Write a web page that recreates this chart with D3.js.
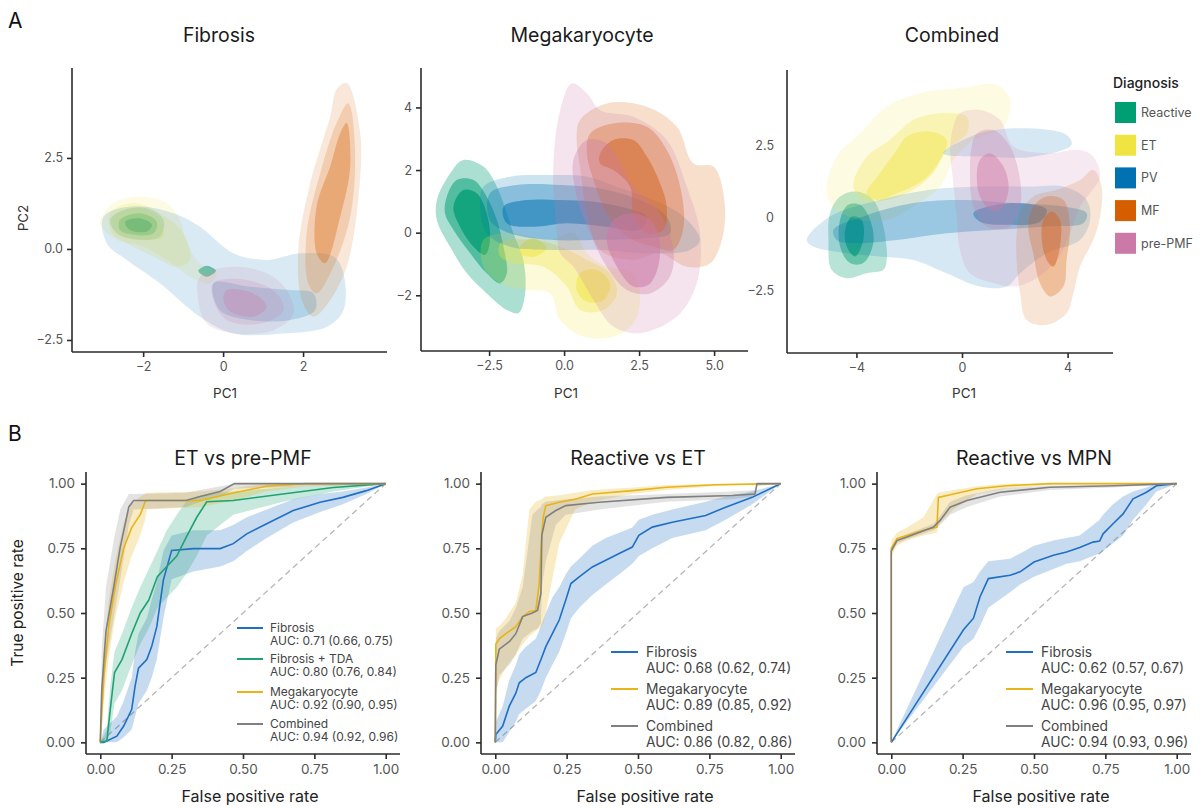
<!DOCTYPE html>
<html><head><meta charset="utf-8">
<script src="https://cdn.jsdelivr.net/npm/d3@7"></script>
<style>body{margin:0;background:#fff} svg{font-family:Inter,"Noto Sans",sans-serif}</style>
</head><body><svg id="c" width="1202" height="808"></svg>
<script>
// ---------------- DATA ----------------
const diagnoses = ["Reactive","ET","PV","MF","pre-PMF"];
const diagColors = ["#009E73","#F0E442","#0072B2","#D55E00","#CC79A7"];

// PCA density contours (lv = density level, higher = denser), data coordinates [PC1, PC2]
const fibReactive = [
  {lv:1, pts:[[-2.83,0.80],[-2.49,1.07],[-1.91,1.12],[-1.49,0.80],[-1.58,0.34],[-2.08,0.25],[-2.66,0.43]]},
  {lv:2, pts:[[-2.58,0.80],[-2.08,0.98],[-1.66,0.75],[-1.74,0.43],[-2.24,0.39],[-2.58,0.52]]},
  {lv:3, pts:[[-2.45,0.75],[-2.08,0.84],[-1.78,0.66],[-1.91,0.48],[-2.33,0.52]]},
  {lv:3, pts:[[-0.62,-0.60],[-0.41,-0.46],[-0.18,-0.60],[-0.41,-0.76]]}
];
const fibET = [
  {lv:0, pts:[[-3.08,0.71],[-2.74,1.26],[-2.08,1.44],[-1.41,1.26],[-1.08,0.80],[-0.91,0.16],[-0.58,-0.39],[-0.16,-0.67],[-0.33,-0.94],[-0.83,-0.76],[-1.41,-0.30],[-1.99,0.06],[-2.66,0.25]]},
  {lv:1, pts:[[-2.83,0.98],[-2.24,1.26],[-1.58,0.98],[-0.99,0.43],[-0.83,-0.30],[-1.16,-0.49],[-1.74,-0.21],[-2.41,0.16],[-2.78,0.43]]},
  {lv:1, pts:[[-2.74,0.89],[-2.08,1.12],[-1.58,0.80],[-1.49,0.34],[-2.08,0.25],[-2.66,0.43]]}
];
const fibPV = [
  {lv:0, pts:[[-2.99,0.89],[-2.24,1.17],[-1.24,0.98],[-0.58,0.61],[0.26,-0.12],[1.09,-0.30],[1.93,-0.12],[2.76,-0.21],[3.01,-0.67],[3.01,-1.68],[2.59,-2.14],[1.51,-2.32],[0.26,-2.32],[-0.58,-1.86],[-1.58,-0.94],[-2.41,-0.30],[-2.91,0.16]]},
  {lv:1, pts:[[-0.24,-0.94],[0.68,-1.04],[1.68,-1.13],[2.26,-1.22],[2.30,-1.68],[1.68,-1.95],[0.68,-1.95],[-0.08,-1.68]]}
];
const fibMF = [
  {lv:0, pts:[[3.09,4.56],[3.43,3.18],[3.38,1.35],[3.09,-0.49],[2.68,-1.40],[2.26,-1.86],[1.97,-1.40],[1.88,-0.03],[2.18,1.81],[2.68,3.64],[2.84,4.38]]},
  {lv:1, pts:[[3.13,4.00],[3.30,2.72],[3.18,0.89],[2.76,-0.49],[2.34,-1.22],[2.13,-0.94],[2.09,0.43],[2.43,2.08],[2.84,3.46]]},
  {lv:2, pts:[[3.09,3.46],[3.18,2.27],[2.93,0.89],[2.55,-0.39],[2.34,-0.12],[2.34,1.17],[2.68,2.27],[2.93,3.18]]}
];
const fibPMF = [
  {lv:0, pts:[[-0.58,-0.76],[0.26,-0.49],[1.09,-0.67],[1.59,-1.13],[1.76,-1.77],[1.26,-2.23],[0.26,-2.32],[-0.41,-2.05],[-0.62,-1.40]]},
  {lv:1, pts:[[-0.24,-0.94],[0.59,-0.85],[1.34,-1.22],[1.51,-1.68],[0.93,-2.05],[0.09,-1.95],[-0.24,-1.40]]},
  {lv:2, pts:[[0.09,-1.13],[0.76,-1.22],[1.09,-1.59],[0.76,-1.86],[0.18,-1.72],[0.01,-1.40]]}
];

const megReactive = [
  {lv:1, pts:[[-4.24,1.04],[-3.80,1.89],[-3.36,2.32],[-2.69,2.11],[-2.24,1.47],[-1.91,0.62],[-1.69,-0.02],[-1.36,-0.87],[-1.30,-1.94],[-1.52,-2.57],[-1.91,-2.47],[-2.58,-1.94],[-3.24,-1.30],[-3.80,-0.45],[-4.24,0.40]]},
  {lv:2, pts:[[-3.91,1.15],[-3.58,1.68],[-3.02,1.68],[-2.58,1.15],[-2.24,0.40],[-2.02,-0.45],[-1.91,-1.30],[-2.13,-1.62],[-2.58,-1.30],[-3.13,-0.66],[-3.69,0.09],[-3.97,0.62]]},
  {lv:3, pts:[[-3.69,0.83],[-3.36,1.36],[-2.91,1.26],[-2.58,0.62],[-2.47,-0.23],[-2.63,-0.71],[-3.02,-0.45],[-3.47,0.19]]}
];
const megET = [
  {lv:0, pts:[[-2.69,-0.23],[-1.80,-0.02],[-0.47,-0.23],[0.31,-0.02],[0.76,-0.66],[1.42,-1.09],[2.31,-1.30],[2.53,-2.15],[2.31,-2.89],[1.64,-3.32],[0.64,-3.32],[-0.13,-2.79],[-0.47,-1.94],[-1.24,-1.83],[-2.13,-1.62],[-2.69,-1.09]]},
  {lv:1, pts:[[-2.13,-0.34],[-1.02,-0.23],[-0.13,-0.45],[0.76,-0.87],[1.53,-1.30],[1.76,-1.94],[1.31,-2.47],[0.53,-2.47],[0.09,-1.72],[-0.69,-1.09],[-1.69,-0.98],[-2.13,-0.77]]},
  {lv:2, pts:[[-1.47,-0.45],[-1.02,-0.18],[-0.58,-0.50],[-1.02,-0.77],[-1.47,-0.66]]},
  {lv:2, pts:[[0.53,-1.30],[1.09,-1.19],[1.53,-1.62],[1.31,-2.15],[0.76,-2.21],[0.42,-1.83]]}
];
const megPV = [
  {lv:0, pts:[[-2.69,1.47],[-1.80,1.79],[-0.47,1.84],[0.76,1.79],[1.76,1.47],[2.98,1.04],[3.98,0.51],[4.53,-0.23],[4.20,-0.55],[2.87,-0.66],[1.20,-0.55],[-0.47,-0.55],[-1.80,-0.45],[-2.58,-0.02],[-2.80,0.83]]},
  {lv:1, pts:[[-2.47,1.26],[-1.58,1.52],[-0.13,1.52],[1.20,1.41],[2.53,1.04],[3.42,0.51],[3.53,-0.02],[2.76,-0.18],[1.20,-0.23],[-0.47,-0.23],[-1.80,-0.02],[-2.47,0.40]]},
  {lv:2, pts:[[-2.02,0.83],[-1.24,1.04],[-0.13,1.04],[0.98,0.99],[2.09,0.78],[2.76,0.51],[2.53,0.09],[1.42,0.19],[0.09,0.30],[-1.02,0.19],[-1.91,0.30]]}
];
const megMF = [
  {lv:0, pts:[[0.53,3.60],[1.42,4.13],[2.76,4.02],[3.76,3.38],[4.31,2.21],[4.98,2.11],[5.31,1.26],[5.31,-0.02],[4.87,-0.98],[4.09,-1.09],[3.20,-0.66],[2.31,-0.87],[1.20,-0.55],[0.76,0.62],[0.53,2.11],[0.42,2.96]]},
  {lv:1, pts:[[0.87,3.17],[1.64,3.49],[2.76,3.38],[3.42,2.64],[3.87,1.47],[3.98,0.19],[3.64,-0.55],[2.98,-0.45],[2.09,-0.13],[1.42,0.62],[0.98,1.68],[0.76,2.53]]},
  {lv:2, pts:[[1.20,2.53],[1.64,2.96],[2.31,2.96],[2.76,2.43],[3.20,1.57],[3.42,0.83],[3.31,0.09],[2.76,-0.02],[2.31,0.51],[2.20,1.47],[1.64,2.00],[1.20,2.21]]}
];
const megPMF = [
  {lv:0, pts:[[-0.24,-0.02],[-0.36,2.11],[-0.13,3.91],[0.26,4.77],[0.76,4.45],[1.20,3.91],[2.31,3.70],[3.42,2.96],[4.09,1.47],[4.53,-0.02],[4.42,-1.62],[3.76,-2.68],[2.53,-3.21],[1.64,-3.00],[0.98,-2.15],[0.31,-1.09],[-0.13,-0.66]]},
  {lv:1, pts:[[0.31,2.32],[0.76,2.96],[1.42,2.85],[2.31,1.47],[3.20,0.62],[3.64,-0.55],[3.53,-1.40],[2.87,-1.94],[2.09,-1.83],[1.42,-1.09],[0.87,-0.02],[0.42,1.15]]},
  {lv:2, pts:[[1.64,0.40],[2.31,0.62],[2.98,0.30],[3.20,-0.66],[2.87,-1.62],[2.31,-1.72],[1.76,-1.09],[1.42,-0.23]]}
];

const comReactive = [
  {lv:1, pts:[[-5.0,0.16],[-4.62,0.74],[-3.99,0.91],[-3.36,0.62],[-2.98,-0.30],[-2.85,-1.45],[-2.98,-1.79],[-3.61,-1.91],[-4.37,-2.08],[-4.94,-1.79],[-5.06,-0.76]]},
  {lv:2, pts:[[-4.62,-0.07],[-4.31,0.45],[-3.86,0.45],[-3.48,-0.07],[-3.36,-0.87],[-3.74,-1.56],[-4.24,-1.56],[-4.62,-0.99]]},
  {lv:3, pts:[[-4.43,-0.41],[-4.17,0.05],[-3.80,-0.07],[-3.74,-0.76],[-4.05,-1.33],[-4.37,-0.99]]}
];
const comET = [
  {lv:0, pts:[[-5.13,0.85],[-4.75,2.11],[-3.86,2.92],[-2.85,3.84],[-1.59,4.30],[-0.08,4.47],[1.31,4.59],[1.82,4.07],[1.57,3.15],[0.43,2.69],[-0.33,2.00],[-0.83,1.08],[-1.84,0.39],[-2.85,-0.07],[-3.86,-0.07],[-4.75,0.28]]},
  {lv:1, pts:[[-4.12,1.08],[-3.61,2.11],[-2.73,2.69],[-1.84,3.38],[-0.83,3.61],[0.18,3.49],[0.18,2.92],[-0.58,2.34],[-1.09,1.54],[-1.84,0.97],[-2.85,0.62],[-3.74,0.62]]},
  {lv:2, pts:[[-3.61,0.85],[-3.11,1.54],[-2.47,2.34],[-2.10,2.80],[-1.21,2.98],[-0.58,2.69],[-0.83,2.00],[-1.46,1.31],[-2.47,0.85],[-3.23,0.62]]}
];
const comPV = [
  {lv:0, pts:[[-5.88,-0.76],[-5.0,0.05],[-3.11,0.62],[-1.21,0.97],[0.68,1.08],[2.58,1.08],[3.84,1.08],[4.72,0.62],[4.85,-0.07],[4.47,-0.76],[3.21,-1.22],[2.20,-1.91],[1.69,-2.37],[0.68,-2.37],[-0.58,-1.91],[-1.84,-1.45],[-3.11,-1.33],[-4.37,-1.22],[-5.63,-0.99]]},
  {lv:0, pts:[[-0.71,2.23],[0.68,2.92],[2.45,3.09],[3.96,2.86],[4.15,2.52],[2.70,2.11],[0.93,2.11]]},
  {lv:1, pts:[[-4.87,-0.41],[-3.74,0.05],[-1.84,0.51],[0.05,0.62],[1.94,0.51],[3.84,0.39],[4.72,0.16],[4.60,-0.18],[3.21,-0.30],[1.31,-0.41],[-0.58,-0.53],[-2.47,-0.76],[-4.12,-0.87],[-4.75,-0.76]]},
  {lv:2, pts:[[0.43,0.16],[1.31,0.45],[2.58,0.48],[3.21,0.28],[2.95,-0.13],[1.69,-0.24],[0.68,-0.13]]}
];
const comMF = [
  {lv:0, pts:[[2.20,0.16],[2.70,0.74],[3.59,0.97],[4.47,1.31],[4.97,1.66],[5.29,1.08],[5.23,0.05],[4.97,-0.76],[4.47,-1.68],[4.22,-2.60],[3.96,-3.29],[3.21,-3.69],[2.45,-3.52],[2.20,-2.60],[2.07,-1.45],[2.07,-0.53]]},
  {lv:1, pts:[[2.70,0.39],[3.21,0.74],[3.84,0.62],[4.09,-0.30],[3.96,-1.45],[3.84,-2.37],[3.33,-2.71],[2.95,-2.25],[2.70,-1.22],[2.51,-0.30]]},
  {lv:2, pts:[[3.08,-0.07],[3.40,0.22],[3.71,-0.07],[3.71,-0.99],[3.46,-1.68],[3.21,-1.45],[3.02,-0.76]]}
];
const comPMF = [
  {lv:0, pts:[[-0.33,3.15],[-0.08,3.61],[0.68,3.72],[1.44,3.38],[1.94,2.46],[3.21,2.23],[4.47,2.34],[4.98,2.11],[5.23,1.43],[4.85,0.85],[4.47,0.39],[4.09,-0.53],[3.59,-1.45],[2.70,-2.14],[1.94,-2.37],[1.19,-2.25],[0.30,-1.91],[-0.08,-1.10],[-0.20,0.05],[-0.33,1.20],[-0.45,2.34]]},
  {lv:1, pts:[[0.56,2.92],[1.19,3.03],[1.82,2.46],[2.20,1.31],[2.20,0.39],[1.82,-0.30],[0.93,-0.30],[0.43,0.39],[0.30,1.54],[0.37,2.46]]},
  {lv:2, pts:[[0.68,2.00],[1.06,2.23],[1.57,1.77],[1.76,0.97],[1.44,0.28],[1.06,0.28],[0.68,0.74],[0.56,1.43]]}
];

const pcTitles = ["Fibrosis","Megakaryocyte","Combined"];
const pcXTicks = [[-2,0,2],[-2.5,0,2.5,5],[-4,0,4]];
const pcXTickLabels = [["−2","0","2"],["−2.5","0.0","2.5","5.0"],["−4","0","4"]];
const pcYTicks = [[-2.5,0,2.5],[-2,0,2,4],[-2.5,0,2.5]];
const pcYTickLabels = [["−2.5","0.0","2.5"],["−2","0","2","4"],["−2.5","0","2.5"]];

// ROC curves: rows of [FPR, TPR, lower, upper]
const etPmfFibrosis = [[0,0,0,0],[0.012,0,0,0.05],[0.058,0.024,0,0.1],[0.082,0.063,0.02,0.16],[0.11,0.127,0.05,0.25],[0.122,0.217,0.1,0.35],[0.134,0.287,0.15,0.42],[0.163,0.32,0.2,0.48],[0.18,0.37,0.25,0.55],[0.198,0.447,0.32,0.62],[0.221,0.627,0.48,0.74],[0.25,0.742,0.63,0.8],[0.326,0.749,0.66,0.82],[0.42,0.749,0.68,0.82],[0.466,0.768,0.7,0.84],[0.513,0.806,0.74,0.87],[0.583,0.845,0.79,0.9],[0.676,0.896,0.85,0.94],[0.77,0.928,0.89,0.96],[0.85,0.947,0.92,0.97],[0.932,0.973,0.96,0.985],[1,1,1,1]];
const etPmfTDA = [[0,0,0,0],[0.023,0.005,0,0.05],[0.035,0.127,0.04,0.22],[0.05,0.27,0.15,0.35],[0.076,0.32,0.2,0.42],[0.11,0.42,0.3,0.52],[0.14,0.5,0.38,0.6],[0.17,0.55,0.44,0.67],[0.2,0.64,0.52,0.74],[0.233,0.68,0.56,0.82],[0.268,0.72,0.6,0.88],[0.3,0.79,0.65,0.93],[0.338,0.87,0.72,0.95],[0.373,0.93,0.8,0.96],[0.466,0.935,0.88,0.97],[0.64,0.96,0.93,0.985],[0.816,0.985,0.97,0.995],[1,1,1,1]];
const etPmfMeg = [[0,0,0,0],[0.012,0.25,0.15,0.35],[0.03,0.45,0.33,0.55],[0.052,0.6,0.48,0.7],[0.082,0.75,0.62,0.85],[0.11,0.83,0.72,0.92],[0.14,0.88,0.8,0.95],[0.157,0.93,0.86,0.96],[0.163,0.935,0.9,0.965],[0.35,0.935,0.91,0.97],[0.45,0.96,0.93,0.98],[0.58,0.99,0.97,1],[0.72,1,0.99,1],[1,1,1,1]];
const etPmfComb = [[0,0,0,0],[0.005,0.2,0.1,0.36],[0.02,0.43,0.3,0.6],[0.047,0.6,0.48,0.78],[0.07,0.755,0.63,0.9],[0.1,0.91,0.84,0.96],[0.117,0.935,0.9,0.96],[0.3,0.935,0.91,0.965],[0.35,0.95,0.93,0.975],[0.42,0.97,0.95,0.99],[0.47,1,0.98,1],[1,1,1,1]];

const reEtFibrosis = [[0,0,0,0],[0.002,0.03,0,0.08],[0.026,0.063,0,0.14],[0.049,0.14,0.04,0.24],[0.072,0.19,0.08,0.3],[0.084,0.23,0.11,0.34],[0.107,0.25,0.13,0.37],[0.142,0.27,0.16,0.4],[0.16,0.32,0.2,0.45],[0.177,0.37,0.25,0.5],[0.2,0.42,0.3,0.56],[0.224,0.473,0.35,0.6],[0.247,0.55,0.42,0.65],[0.265,0.614,0.48,0.68],[0.294,0.64,0.52,0.71],[0.34,0.678,0.57,0.76],[0.387,0.704,0.61,0.79],[0.434,0.73,0.65,0.81],[0.48,0.755,0.69,0.83],[0.503,0.8,0.72,0.86],[0.55,0.832,0.75,0.88],[0.62,0.851,0.79,0.9],[0.737,0.877,0.82,0.93],[0.807,0.909,0.86,0.95],[0.9,0.947,0.92,0.97],[1,1,1,1]];
const reEtMeg = [[0,0,0,0],[0.002,0.38,0.2,0.44],[0.014,0.4,0.24,0.45],[0.037,0.42,0.29,0.48],[0.072,0.447,0.34,0.54],[0.096,0.486,0.38,0.65],[0.119,0.505,0.41,0.9],[0.142,0.51,0.43,0.93],[0.154,0.614,0.44,0.935],[0.163,0.806,0.45,0.94],[0.168,0.87,0.46,0.945],[0.177,0.915,0.5,0.95],[0.224,0.928,0.77,0.955],[0.28,0.94,0.9,0.965],[0.34,0.96,0.93,0.975],[0.48,0.973,0.96,0.985],[0.6,0.986,0.975,0.995],[0.77,0.996,0.99,1],[1,1,1,1]];
const reEtComb = [[0,0,0,0],[0.002,0.3,0.18,0.4],[0.014,0.36,0.26,0.43],[0.05,0.39,0.3,0.47],[0.072,0.42,0.34,0.52],[0.096,0.486,0.4,0.6],[0.13,0.5,0.43,0.88],[0.148,0.51,0.44,0.9],[0.16,0.576,0.46,0.91],[0.163,0.8,0.6,0.92],[0.177,0.87,0.7,0.93],[0.212,0.896,0.84,0.935],[0.247,0.915,0.88,0.94],[0.364,0.928,0.9,0.95],[0.6,0.947,0.93,0.96],[0.83,0.954,0.94,0.97],[0.91,0.96,0.95,0.975],[0.917,1,0.99,1],[1,1,1,1]];

const reMpnFibrosis = [[0,0,0,0],[0.253,0.435,0.37,0.6],[0.288,0.48,0.4,0.62],[0.311,0.563,0.45,0.66],[0.34,0.633,0.52,0.7],[0.416,0.646,0.58,0.71],[0.451,0.659,0.61,0.73],[0.5,0.697,0.64,0.76],[0.568,0.723,0.67,0.78],[0.614,0.736,0.69,0.79],[0.66,0.753,0.7,0.8],[0.707,0.774,0.72,0.84],[0.73,0.778,0.73,0.86],[0.742,0.806,0.74,0.88],[0.777,0.845,0.77,0.92],[0.812,0.883,0.8,0.95],[0.847,0.941,0.86,0.97],[0.894,0.967,0.92,0.985],[0.929,0.992,0.97,1],[1,1,1,1]];
const reMpnMeg = [[0,0,0,0],[0,0.75,0.72,0.78],[0.02,0.787,0.76,0.81],[0.055,0.8,0.78,0.83],[0.113,0.82,0.8,0.87],[0.16,0.832,0.81,0.96],[0.165,0.947,0.84,0.965],[0.218,0.96,0.9,0.975],[0.3,0.98,0.96,0.99],[0.404,0.992,0.98,1],[0.556,1,0.995,1],[1,1,1,1]];
const reMpnComb = [[0,0,0,0],[0,0.74,0.73,0.75],[0.02,0.78,0.77,0.79],[0.055,0.794,0.785,0.805],[0.148,0.832,0.82,0.845],[0.171,0.858,0.84,0.875],[0.206,0.909,0.88,0.93],[0.265,0.935,0.91,0.955],[0.381,0.967,0.95,0.98],[0.556,0.986,0.975,0.993],[0.777,0.992,0.985,0.997],[1,1,1,1]];

const rocTitles = ["ET vs pre-PMF","Reactive vs ET","Reactive vs MPN"];
const rocTicks = [0,0.25,0.5,0.75,1];
const rocTickLabels = ["0.00","0.25","0.50","0.75","1.00"];
const modelNames = ["Fibrosis","Fibrosis + TDA","Megakaryocyte","Combined"];
const modelColors = ["#1f6fc4","#1fa273","#e8b416","#808080"];
const etPmfAUC = ["AUC: 0.71 (0.66, 0.75)","AUC: 0.80 (0.76, 0.84)","AUC: 0.92 (0.90, 0.95)","AUC: 0.94 (0.92, 0.96)"];
const reEtAUC = ["AUC: 0.68 (0.62, 0.74)","AUC: 0.89 (0.85, 0.92)","AUC: 0.86 (0.82, 0.86)"];
const reMpnAUC = ["AUC: 0.62 (0.57, 0.67)","AUC: 0.96 (0.95, 0.97)","AUC: 0.94 (0.93, 0.96)"];

// ---------------- DRAW ----------------
const svg = d3.select("#c");
const axisCol = "#2b2b2b", tickTxt = "#555";

svg.append("text").attr("x",8).attr("y",28).attr("font-size",21).attr("fill","#111").text("A");
svg.append("text").attr("x",8).attr("y",441).attr("font-size",21).attr("fill","#111").text("B");

const pcLayout = [
  {xr:[72,387], yr:[352,68], xd:[-3.78,4.1], yd:[-2.83,4.97], ytick:true, tx:219},
  {xr:[421,748], yr:[351,68], xd:[-4.77,6.13], yd:[-3.78,5.26], ytick:true, tx:582},
  {xr:[787,1113], yr:[353,70], xd:[-6.63,5.72], yd:[-4.66,5.10], ytick:false, tx:952}
];
const pcData = [
  [fibReactive,fibET,fibPV,fibMF,fibPMF],
  [megReactive,megET,megPV,megMF,megPMF],
  [comReactive,comET,comPV,comMF,comPMF]
];
const levelOpacity = [[0.15,0.19,0.32,0.55],[0.2,0.33,0.52,0.75],[0.16,0.28,0.45,0.65]];

pcLayout.forEach((L,i)=>{
  const x = d3.scaleLinear().domain(L.xd).range(L.xr);
  const y = d3.scaleLinear().domain(L.yd).range(L.yr);
  const g = svg.append("g");
  const cid = "clipA"+i;
  g.append("clipPath").attr("id",cid).append("rect")
    .attr("x",L.xr[0]).attr("y",L.yr[1]).attr("width",L.xr[1]-L.xr[0]).attr("height",L.yr[0]-L.yr[1]);
  const area = g.append("g").attr("clip-path",`url(#${cid})`);
  const line = d3.line().x(d=>x(d[0])).y(d=>y(d[1])).curve(d3.curveCatmullRomClosed.alpha(0.5));
  pcData[i].forEach((grp,k)=>{
    grp.forEach(c=>{
      area.append("path").attr("d",line(c.pts)).attr("fill",diagColors[k])
        .attr("fill-opacity",levelOpacity[i][c.lv]);
    });
  });
  const xa = g.append("g").attr("transform",`translate(0,${L.yr[0]})`)
    .call(d3.axisBottom(x).tickValues(pcXTicks[i]).tickFormat((d,j)=>pcXTickLabels[i][j]).tickSize(5).tickPadding(5));
  const ya = g.append("g").attr("transform",`translate(${L.xr[0]},0)`)
    .call(d3.axisLeft(y).tickValues(pcYTicks[i]).tickFormat((d,j)=>pcYTickLabels[i][j]).tickSize(L.ytick?5:0).tickPadding(L.ytick?4:13));
  [xa,ya].forEach(a=>{
    a.select(".domain").attr("stroke",axisCol).attr("stroke-width",1.6);
    a.selectAll(".tick line").attr("stroke",axisCol).attr("stroke-width",1.6);
    a.selectAll(".tick text").attr("fill",tickTxt).attr("font-size",12.5).attr("font-family","Inter, sans-serif");
  });
  xa.select(".domain").attr("d",`M${L.xr[0]},0H${L.xr[1]}`);
  ya.select(".domain").attr("d",`M0,${L.yr[0]}V${L.yr[1]}`);
  g.append("text").attr("x",L.tx).attr("y",42).attr("text-anchor","middle")
    .attr("font-size",19.5).attr("fill","#1a1a1a").text(pcTitles[i]);
  g.append("text").attr("x",x(0)+2).attr("y",398).attr("text-anchor","middle")
    .attr("font-size",13.5).attr("fill","#333").text("PC1");
});
svg.append("text").attr("transform","translate(28,218) rotate(-90)").attr("text-anchor","middle")
  .attr("font-size",13.5).attr("fill","#333").text("PC2");

// legend A
svg.append("text").attr("x",1113).attr("y",88).attr("font-size",14).attr("font-weight",500).attr("fill","#222").text("Diagnosis");
diagnoses.forEach((d,k)=>{
  const yy = 102 + k*32.7;
  svg.append("rect").attr("x",1115).attr("y",yy).attr("width",21).attr("height",21).attr("fill",diagColors[k]);
  svg.append("text").attr("x",1141).attr("y",yy+15).attr("font-size",12.5).attr("fill","#555").text(d);
});

// ROC panels
const rocLayout = [
  {xr:[86,400], series:[etPmfFibrosis,etPmfTDA,etPmfMeg,etPmfComb], models:[0,1,2,3], auc:etPmfAUC,
   leg:{x0:237,x1:263,tx:270,y:[628,659,692,724],dy:13,fs:12}},
  {xr:[481,795], series:[reEtFibrosis,reEtMeg,reEtComb], models:[0,2,3], auc:reEtAUC,
   leg:{x0:611,x1:638,tx:646,y:[652,689,726],dy:16,fs:13.8}},
  {xr:[877,1191], series:[reMpnFibrosis,reMpnMeg,reMpnComb], models:[0,2,3], auc:reMpnAUC,
   leg:{x0:1006,x1:1033,tx:1041,y:[652,689,726],dy:16,fs:13.8}}
];
const yr = [754,472];
rocLayout.forEach((L,i)=>{
  const x = d3.scaleLinear().domain([-0.05,1.05]).range(L.xr);
  const y = d3.scaleLinear().domain([-0.045,1.045]).range(yr);
  const g = svg.append("g");
  g.append("line").attr("x1",x(0)).attr("y1",y(0)).attr("x2",x(1)).attr("y2",y(1))
    .attr("stroke","#b5b5b5").attr("stroke-width",1.3).attr("stroke-dasharray","6,4");
  const band = d3.area().x(d=>x(d[0])).y0(d=>y(d[2])).y1(d=>y(d[3]));
  const ln = d3.line().x(d=>x(d[0])).y(d=>y(d[1]));
  L.series.forEach((s,k)=>{
    const m = L.models[k];
    g.append("path").attr("d",band(s)).attr("fill",modelColors[m]).attr("fill-opacity",m===3?0.22:0.25);
  });
  L.series.forEach((s,k)=>{
    const m = L.models[k];
    g.append("path").attr("d",ln(s)).attr("fill","none").attr("stroke",modelColors[m]).attr("stroke-width",1.6);
  });
  const xa = g.append("g").attr("transform",`translate(0,${yr[0]})`)
    .call(d3.axisBottom(x).tickValues(rocTicks).tickFormat((d,j)=>rocTickLabels[j]).tickSize(5).tickPadding(5));
  const ya = g.append("g").attr("transform",`translate(${L.xr[0]},0)`)
    .call(d3.axisLeft(y).tickValues(rocTicks).tickFormat((d,j)=>rocTickLabels[j]).tickSize(5).tickPadding(6));
  [xa,ya].forEach(a=>{
    a.select(".domain").attr("stroke",axisCol).attr("stroke-width",1.6);
    a.selectAll(".tick line").attr("stroke",axisCol).attr("stroke-width",1.6);
    a.selectAll(".tick text").attr("fill",tickTxt).attr("font-size",13.5).attr("font-family","Inter, sans-serif");
  });
  xa.select(".domain").attr("d",`M${L.xr[0]},0H${L.xr[1]}`);
  ya.select(".domain").attr("d",`M0,${yr[0]}V${yr[1]}`);
  g.append("text").attr("x",x(0.5)).attr("y",465).attr("text-anchor","middle")
    .attr("font-size",19.5).attr("fill","#1a1a1a").text(rocTitles[i]);
  g.append("text").attr("x",x(0.5)+7).attr("y",802).attr("text-anchor","middle")
    .attr("font-size",16).attr("fill","#222").text("False positive rate");
  L.models.forEach((m,k)=>{
    const yy = L.leg.y[k];
    g.append("line").attr("x1",L.leg.x0).attr("x2",L.leg.x1).attr("y1",yy).attr("y2",yy)
      .attr("stroke",modelColors[m]).attr("stroke-width",2);
    g.append("text").attr("x",L.leg.tx).attr("y",yy).attr("dy","0.35em").attr("font-size",L.leg.fs).attr("fill","#444").text(modelNames[m]);
    g.append("text").attr("x",L.leg.tx).attr("y",yy+L.leg.dy).attr("dy","0.35em").attr("font-size",L.leg.fs).attr("fill","#444").text(L.auc[k]);
  });
});
svg.append("text").attr("transform","translate(23,603) rotate(-90)").attr("text-anchor","middle")
  .attr("font-size",15.5).attr("fill","#222").text("True positive rate");
</script></body></html>
